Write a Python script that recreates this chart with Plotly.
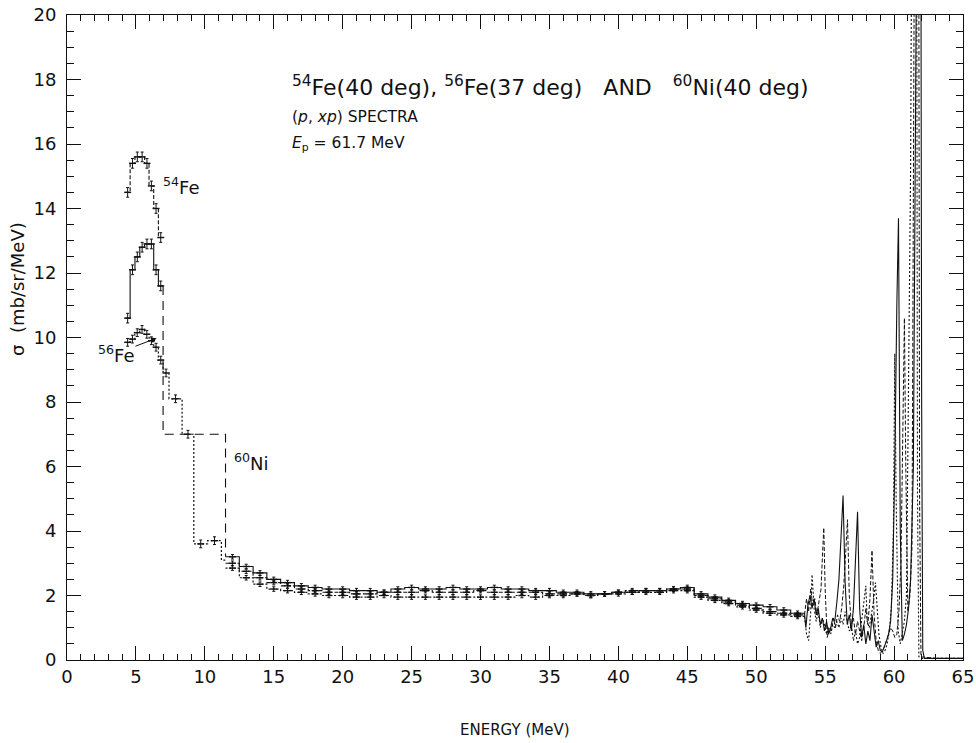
import plotly.graph_objects as go

# ---------------- data ----------------
# low-energy bins (MeV), ~0.34 MeV wide
LOW_E = [4.4, 4.75, 5.1, 5.45, 5.8, 6.12, 6.46, 6.8]
FE54_LOW = [14.5, 15.4, 15.6, 15.6, 15.4, 14.7, 14.0, 13.1]
NI60_LOW = [10.6, 12.1, 12.5, 12.8, 12.9, 12.9, 12.1, 11.6]

# 56Fe low-energy part has wider bins after ~7 MeV
FE56_LOW_EDGES = [4.23, 4.57, 4.92, 5.27, 5.62, 5.96, 6.29, 6.63, 6.97,
                  7.4, 8.35, 9.2, 10.2, 11.2, 11.5]
FE56_LOW = [9.85, 9.95, 10.15, 10.25, 10.1, 9.9, 9.7, 9.3,
            8.9, 8.1, 7.0, 3.6, 3.7, 3.1]

# 60Ni broad-bin connection (long dashes)
LINK_E = [6.97, 6.97, 11.5, 11.5]
LINK_S = [11.6, 7.0, 7.0, 3.2]

# continuum, 1 MeV bins
MID_E = [12, 13, 14, 15, 16, 17, 18, 19, 20, 21, 22, 23, 24, 25, 26, 27, 28,
         29, 30, 31, 32, 33, 34, 35, 36, 37, 38, 39, 40, 41, 42, 43, 44, 45,
         46, 47, 48, 49, 50, 51, 52, 53]
NI60_MID = [3.2, 2.9, 2.7, 2.5, 2.4, 2.3, 2.25, 2.2, 2.2, 2.15, 2.15, 2.1,
            2.2, 2.25, 2.2, 2.2, 2.25, 2.2, 2.2, 2.25, 2.2, 2.2, 2.15, 2.15,
            2.1, 2.1, 2.05, 2.05, 2.1, 2.1, 2.15, 2.15, 2.2, 2.25, 2.05, 1.95,
            1.85, 1.75, 1.7, 1.65, 1.55, 1.45]
FE54_MID = [3.0, 2.75, 2.55, 2.4, 2.3, 2.2, 2.15, 2.1, 2.1, 2.05, 2.05, 2.1,
            2.1, 2.1, 2.15, 2.1, 2.1, 2.1, 2.15, 2.1, 2.1, 2.1, 2.1, 2.05,
            2.05, 2.05, 2.0, 2.05, 2.1, 2.15, 2.15, 2.15, 2.2, 2.2, 2.0, 1.9,
            1.8, 1.7, 1.6, 1.5, 1.45, 1.4]
FE56_MID = [2.85, 2.55, 2.35, 2.2, 2.15, 2.1, 2.05, 2.0, 2.0, 1.95, 1.95,
            2.0, 1.95, 1.95, 1.95, 1.95, 1.95, 1.95, 1.95, 1.95, 1.95, 2.0,
            1.95, 2.0, 2.0, 2.05, 2.0, 2.05, 2.05, 2.1, 2.1, 2.1, 2.15, 2.15,
            1.95, 1.85, 1.75, 1.65, 1.55, 1.45, 1.4, 1.35]

# discrete-state region (continuous spectra)
NI60_HI_E = [53.5, 53.6, 53.75, 53.9, 54.05, 54.2, 54.35, 54.5, 54.65, 54.8,
             54.95, 55.1, 55.25, 55.4, 55.55, 55.7, 55.85, 56.0, 56.15, 56.3,
             56.45, 56.6, 56.75, 56.9, 57.05, 57.2, 57.35, 57.5, 57.65, 57.8,
             57.95, 58.1, 58.25, 58.4, 58.55, 58.7, 58.85, 59.0, 59.15, 59.3,
             59.45, 59.6, 59.75, 59.9, 60.05, 60.2, 60.32, 60.45, 60.6, 60.75,
             60.9, 61.05, 61.2, 61.4, 61.6, 61.75, 61.9, 62.0, 62.08, 62.2,
             63.0, 64.0, 65.0]
NI60_HI = [1.45, 1.0, 1.7, 2.0, 1.6, 1.9, 1.4, 1.6, 1.1, 1.3, 0.9, 1.2, 0.8,
           1.0, 1.3, 1.2, 1.8, 2.5, 3.8, 5.1, 2.4, 1.1, 1.4, 0.9, 1.6, 3.0,
           4.6, 1.6, 0.7, 1.1, 0.5, 0.9, 0.6, 1.4, 0.8, 0.4, 0.6, 0.3, 0.25,
           0.4, 0.6, 0.8, 1.2, 2.5, 6.0, 11.0, 13.7, 4.0, 0.6, 0.8, 1.1, 1.6,
           2.5, 6.0, 20.0, 35.0, 35.0, 8.0, 0.3, 0.05, 0.05, 0.05, 0.05]

FE54_HI_E = [53.5, 53.65, 53.8, 53.95, 54.1, 54.25, 54.4, 54.55, 54.7, 54.8,
             54.9, 55.0, 55.15, 55.3, 55.45, 55.6, 55.75, 55.9, 56.05, 56.2,
             56.35, 56.5, 56.62, 56.75, 56.9, 57.05, 57.2, 57.35, 57.5, 57.65,
             57.8, 57.95, 58.1, 58.25, 58.4, 58.55, 58.7, 58.85, 59.0, 59.15,
             59.3, 59.45, 59.6, 59.75, 59.9, 60.05, 60.2, 60.35, 60.5, 60.65,
             60.75, 60.85, 61.0, 61.15, 61.3, 61.45, 61.55, 61.75, 61.85,
             61.95, 63.0, 65.0]
FE54_HI = [1.4, 1.9, 1.5, 2.2, 1.7, 1.9, 1.4, 1.8, 2.2, 3.2, 4.1, 2.2, 0.7,
           1.0, 0.9, 1.3, 1.0, 1.4, 1.2, 1.6, 2.3, 3.4, 4.35, 2.0, 1.1, 1.3,
           0.8, 1.2, 0.9, 0.6, 1.0, 1.6, 1.1, 1.9, 3.4, 1.4, 0.6, 0.3, 0.2,
           0.3, 0.4, 0.6, 0.8, 1.0, 0.9, 0.7, 0.8, 1.5, 3.0, 7.0, 10.6, 6.0,
           1.5, 2.0, 3.5, 20.0, 35.0, 35.0, 5.0, 0.1, 0.05, 0.05]

FE56_HI_E = [53.5, 53.65, 53.8, 53.95, 54.05, 54.2, 54.35, 54.5, 54.65, 54.8,
             54.95, 55.1, 55.25, 55.4, 55.55, 55.7, 55.85, 56.0, 56.15, 56.3,
             56.45, 56.6, 56.75, 56.9, 57.05, 57.2, 57.35, 57.5, 57.65, 57.8,
             57.95, 58.05, 58.2, 58.35, 58.5, 58.65, 58.75, 58.9, 59.05, 59.2,
             59.35, 59.5, 59.65, 59.8, 59.95, 60.05, 60.15, 60.3, 60.45, 60.6,
             60.75, 60.9, 61.05, 61.2, 61.3, 61.45, 61.6, 61.7, 61.8, 62.0,
             63.0, 65.0]
FE56_HI = [1.35, 0.8, 0.6, 1.5, 2.65, 1.6, 1.2, 1.5, 1.0, 1.3, 1.1, 0.8, 1.0,
           0.8, 1.1, 1.0, 1.2, 1.0, 1.3, 1.1, 1.5, 1.2, 0.9, 1.1, 0.6, 0.9,
           0.5, 0.7, 1.2, 1.7, 2.3, 1.2, 1.0, 1.4, 1.8, 2.4, 1.6, 0.8, 0.4,
           0.2, 0.3, 0.5, 0.9, 1.6, 4.0, 9.5, 5.0, 0.9, 0.5, 0.8, 1.2, 2.0,
           8.0, 15.3, 25.0, 35.0, 35.0, 5.0, 0.1, 0.05, 0.05, 0.05]

X_TICKS = [0, 5, 10, 15, 20, 25, 30, 35, 40, 45, 50, 55, 60, 65]
Y_TICKS = [0, 2, 4, 6, 8, 10, 12, 14, 16, 18, 20]

# ---------------- helpers ----------------
INK = "#111111"
FONT = "DejaVu Sans"


def centers_to_edges(centers, width):
    return [c - width / 2 for c in centers] + [centers[-1] + width / 2]


def step_trace(edges, vals, dash, width=1.1):
    return go.Scatter(x=edges, y=list(vals) + [vals[-1]], mode="lines",
                      line=dict(shape="hv", color=INK, width=width, dash=dash),
                      hoverinfo="skip", showlegend=False)


def err_trace(xc, vals, err):
    return go.Scatter(x=xc, y=vals, mode="markers",
                      marker=dict(symbol="line-ew", size=5, color=INK,
                                  line=dict(width=1.4, color=INK)),
                      error_y=dict(type="constant", value=err, width=1.5,
                                   thickness=1, color=INK),
                      hoverinfo="skip", showlegend=False)


def line_trace(x, y, dash, width=1.1):
    return go.Scatter(x=x, y=y, mode="lines",
                      line=dict(color=INK, width=width, dash=dash),
                      hoverinfo="skip", showlegend=False)


fig = go.Figure()

DASH54 = "4px,2px"
DOT56 = "2px,2px"
LONG = "9px,6px"

low_edges = centers_to_edges(LOW_E, 0.34)
mid_edges = centers_to_edges(MID_E, 1.0)

# 54Fe (dashed)
fig.add_trace(step_trace(low_edges, FE54_LOW, DASH54))
fig.add_trace(err_trace(LOW_E, FE54_LOW, 0.15))
fig.add_trace(step_trace(mid_edges, FE54_MID, DASH54))
fig.add_trace(err_trace(MID_E, FE54_MID, 0.07))
fig.add_trace(line_trace(FE54_HI_E, FE54_HI, DASH54, 1.0))

# 60Ni (solid)
fig.add_trace(step_trace(low_edges, NI60_LOW, "solid"))
fig.add_trace(err_trace(LOW_E, NI60_LOW, 0.15))
fig.add_trace(line_trace(LINK_E, LINK_S, LONG, 1.1))
fig.add_trace(step_trace(mid_edges, NI60_MID, "solid"))
fig.add_trace(err_trace(MID_E, NI60_MID, 0.07))
fig.add_trace(line_trace(NI60_HI_E, NI60_HI, "solid", 1.1))

# 56Fe (dotted)
fe56_centers = [(FE56_LOW_EDGES[i] + FE56_LOW_EDGES[i + 1]) / 2
                for i in range(len(FE56_LOW))]
fig.add_trace(step_trace(FE56_LOW_EDGES, FE56_LOW, DOT56, 1.2))
fig.add_trace(err_trace(fe56_centers[:-1], FE56_LOW[:-1], 0.12))
fig.add_trace(step_trace(mid_edges, FE56_MID, DOT56, 1.2))
fig.add_trace(err_trace(MID_E, FE56_MID, 0.07))
fig.add_trace(line_trace(FE56_HI_E, FE56_HI, DOT56, 1.1))

# ---------------- annotations ----------------
ann = []
ann.append(dict(x=16.2, y=17.8, xanchor="left", yanchor="middle",
                text="<sup>54</sup>Fe(40 deg), <sup>56</sup>Fe(37 deg)"
                     "&nbsp;&nbsp;&nbsp;AND&nbsp;&nbsp;&nbsp;"
                     "<sup>60</sup>Ni(40 deg)",
                font=dict(size=22, family=FONT, color=INK), showarrow=False))
ann.append(dict(x=16.2, y=16.85, xanchor="left", yanchor="middle",
                text="(<i>p</i>, <i>xp</i>) SPECTRA",
                font=dict(size=15.5, family=FONT, color=INK), showarrow=False))
ann.append(dict(x=16.2, y=16.0, xanchor="left", yanchor="middle",
                text="<i>E</i><sub>p</sub> = 61.7 MeV",
                font=dict(size=15.5, family=FONT, color=INK), showarrow=False))
ann.append(dict(x=6.8, y=14.7, xanchor="left", yanchor="middle",
                text="<sup>54</sup>Fe",
                font=dict(size=18, family=FONT, color=INK), showarrow=False))
ann.append(dict(x=12.0, y=6.15, xanchor="left", yanchor="middle",
                text="<sup>60</sup>Ni",
                font=dict(size=18, family=FONT, color=INK), showarrow=False))
ann.append(dict(x=6.5, y=9.98, ax=3.55, ay=9.5, axref="x", ayref="y",
                text="<sup>56</sup>Fe",
                font=dict(size=18, family=FONT, color=INK),
                showarrow=True, arrowhead=2, arrowsize=1.1, arrowwidth=1,
                arrowcolor=INK, standoff=0))
# axis titles
ann.append(dict(x=-0.056, xref="paper", y=11.5, yref="y", textangle=-90,
                xanchor="center", yanchor="middle",
                text="σ  (mb/sr/MeV)",
                font=dict(size=18, family=FONT, color=INK), showarrow=False))
ann.append(dict(x=32.5, y=-0.1085, yref="paper", xanchor="center",
                yanchor="middle", text="ENERGY (MeV)",
                font=dict(size=15, family=FONT, color=INK), showarrow=False))

fig.update_layout(
    width=976, height=743,
    margin=dict(l=67, r=13, t=15, b=83),
    paper_bgcolor="white", plot_bgcolor="white",
    font=dict(family=FONT, color=INK, size=15),
    annotations=ann,
    showlegend=False,
    xaxis=dict(range=[0, 65], tickvals=X_TICKS, ticks="inside", ticklen=14,
               tickwidth=1, tickcolor=INK, showline=True, linecolor=INK,
               linewidth=1, mirror="allticks", showgrid=False, zeroline=False,
               automargin=False,
               minor=dict(dtick=1, ticks="inside", ticklen=6, tickcolor=INK,
                          tickwidth=1, showgrid=False),
               tickfont=dict(size=18, family=FONT, color=INK)),
    yaxis=dict(range=[0, 20], tickvals=Y_TICKS, ticks="inside", ticklen=14,
               tickwidth=1, tickcolor=INK, showline=True, linecolor=INK,
               linewidth=1, mirror="allticks", showgrid=False, zeroline=False,
               automargin=False, ticklabelstandoff=6,
               minor=dict(dtick=0.5, ticks="inside", ticklen=7, tickcolor=INK,
                          tickwidth=1, showgrid=False),
               tickfont=dict(size=18, family=FONT, color=INK)),
)

# remove the default page margin so the figure sits at the window's corner
fig.write_html("out.html",
               config={"displayModeBar": False},
               post_script="document.body.style.margin='0px';"
                           "document.body.style.overflow='hidden';")
